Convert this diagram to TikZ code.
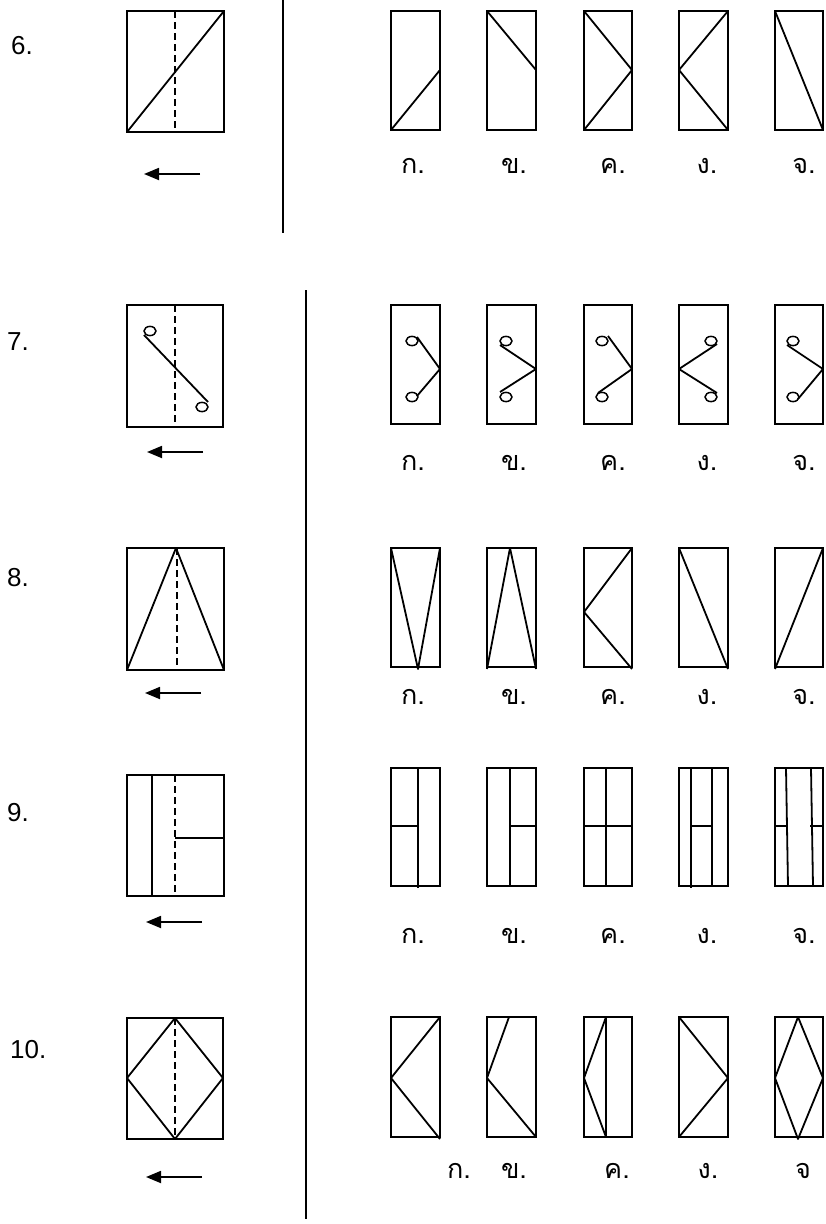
\documentclass[tikz,border=0pt]{standalone}
\usepackage{fontspec}
\setmainfont{Liberation Sans}
\newfontfamily\thaifont[Script=Thai]{Loma}
\usetikzlibrary{arrows.meta}
\tikzset{
  sheet/.style={draw=black, line width=1.9pt},
  crease/.style={draw=black, line width=1.7pt, dash pattern=on 7pt off 4pt},
  foldline/.style={line width=1.8pt, line join=round},
  hole/.style={line width=1.5pt},
  turn/.style={-{Triangle[length=15pt,width=12pt]}, line width=1.8pt},
  divider/.style={line width=1.8pt},
  qnum/.style={font=\fontsize{26}{26}\selectfont, anchor=west, inner sep=0pt},
  choice/.style={font=\thaifont\fontsize{27}{27}\selectfont, inner sep=0pt}
}

\begin{document}
\begin{tikzpicture}[x=1pt, y=-1pt]
  \useasboundingbox (0,0) rectangle (826,1224);

  % dividers
  \draw[divider] (283,0) -- (283,233);
  \draw[divider] (306,290) -- (306,1219);

  % ---- question 6
  \node[qnum] (q6) at (11,46) {6.};
  \draw[sheet] (127,11) rectangle (224,132);
  \draw[crease] (175,11) -- (175,132);
  \draw[foldline] (127,132) -- (224,11);
  \draw[turn] (200,174) -- (144,174);

  \draw[sheet] (391,11) rectangle (440,130);
  \draw[foldline] (391,130) -- (440,70);
  \draw[sheet] (487,11) rectangle (536,130);
  \draw[foldline] (487,11) -- (536,70);
  \draw[sheet] (584,11) rectangle (632,130);
  \draw[foldline] (584,11) -- (632,70) -- (584,130);
  \draw[sheet] (679,11) rectangle (728,130);
  \draw[foldline] (728,11) -- (679,70) -- (728,130);
  \draw[sheet] (775,11) rectangle (823,130);
  \draw[foldline] (775,11) -- (823,130);

  \node[choice] (c6a) at (413,166) {ก.};
  \node[choice] (c6b) at (514,166) {ข.};
  \node[choice] (c6c) at (613,166) {ค.};
  \node[choice] (c6d) at (707,166) {ง.};
  \node[choice] (c6e) at (804,166) {จ.};

  % ---- question 7
  \node[qnum] (q7) at (7,342) {7.};
  \draw[sheet] (127,305) rectangle (223,427);
  \draw[crease] (175,305) -- (175,427);
  \draw[hole] (150,331) ellipse [x radius=6, y radius=4.6];
  \draw[foldline] (144,335) -- (208,402);
  \draw[hole] (202,407) ellipse [x radius=6, y radius=4.6];
  \draw[turn] (203,452) -- (147,452);

  \draw[sheet] (391,305) rectangle (440,424);
  \draw[hole] (412,341) ellipse [x radius=6, y radius=4.6];
  \draw[hole] (412,397) ellipse [x radius=6, y radius=4.6];
  \draw[foldline] (417,337) -- (440,369) -- (417,396);
  \draw[sheet] (487,305) rectangle (536,424);
  \draw[hole] (506,341) ellipse [x radius=6, y radius=4.6];
  \draw[hole] (506,397) ellipse [x radius=6, y radius=4.6];
  \draw[foldline] (500,345) -- (536,369) -- (500,392);
  \draw[sheet] (584,305) rectangle (632,424);
  \draw[hole] (602,341) ellipse [x radius=6, y radius=4.6];
  \draw[hole] (602,397) ellipse [x radius=6, y radius=4.6];
  \draw[foldline] (608,336) -- (632,369) -- (598,393);
  \draw[sheet] (679,305) rectangle (728,424);
  \draw[hole] (711,341) ellipse [x radius=6, y radius=4.6];
  \draw[hole] (711,397) ellipse [x radius=6, y radius=4.6];
  \draw[foldline] (717,344) -- (679,369) -- (717,393);
  \draw[sheet] (775,305) rectangle (823,424);
  \draw[hole] (793,341) ellipse [x radius=6, y radius=4.6];
  \draw[hole] (793,397) ellipse [x radius=6, y radius=4.6];
  \draw[foldline] (787,345) -- (823,369) -- (798,399);

  \node[choice] (c7a) at (413,463) {ก.};
  \node[choice] (c7b) at (514,463) {ข.};
  \node[choice] (c7c) at (613,463) {ค.};
  \node[choice] (c7d) at (707,463) {ง.};
  \node[choice] (c7e) at (804,463) {จ.};

  % ---- question 8
  \node[qnum] (q8) at (7,578) {8.};
  \draw[sheet] (127,548) rectangle (224,670);
  \draw[crease] (177,548) -- (177,670);
  \draw[foldline] (127,670) -- (176,548) -- (224,670);
  \draw[turn] (201,693) -- (145,693);

  \draw[sheet] (391,548) rectangle (440,667);
  \draw[foldline] (391,548) -- (418,669) -- (440,548);
  \draw[sheet] (487,548) rectangle (536,667);
  \draw[foldline] (487,669) -- (510,548) -- (536,669);
  \draw[sheet] (584,548) rectangle (632,667);
  \draw[foldline] (632,548) -- (584,612) -- (632,669);
  \draw[sheet] (679,548) rectangle (728,667);
  \draw[foldline] (679,548) -- (728,669);
  \draw[sheet] (775,548) rectangle (823,667);
  \draw[foldline] (775,669) -- (823,548);

  \node[choice] (c8a) at (413,697) {ก.};
  \node[choice] (c8b) at (514,697) {ข.};
  \node[choice] (c8c) at (613,697) {ค.};
  \node[choice] (c8d) at (707,697) {ง.};
  \node[choice] (c8e) at (804,697) {จ.};

  % ---- question 9
  \node[qnum] (q9) at (7,813) {9.};
  \draw[sheet] (127,775) rectangle (224,896);
  \draw[foldline] (152,775) -- (152,896);
  \draw[crease] (175,775) -- (175,896);
  \draw[foldline] (175,838) -- (224,838);
  \draw[turn] (202,922) -- (146,922);

  \draw[sheet] (391,768) rectangle (440,886);
  \draw[foldline] (418,768) -- (418,888);
  \draw[foldline] (391,826) -- (418,826);
  \draw[sheet] (487,768) rectangle (536,886);
  \draw[foldline] (510,768) -- (510,886);
  \draw[foldline] (510,826) -- (536,826);
  \draw[sheet] (584,768) rectangle (632,886);
  \draw[foldline] (606,768) -- (606,886);
  \draw[foldline] (584,826) -- (632,826);
  \draw[sheet] (679,768) rectangle (728,886);
  \draw[foldline] (691,768) -- (691,888);
  \draw[foldline] (712,768) -- (712,886);
  \draw[foldline] (691,826) -- (712,826);
  \draw[sheet] (775,768) rectangle (823,886);
  \draw[foldline] (786,768) -- (788,886);
  \draw[foldline] (811,768) -- (813,886);
  \draw[foldline] (775,826) -- (788,826);
  \draw[foldline] (810,826) -- (823,826);

  \node[choice] (c9a) at (413,936) {ก.};
  \node[choice] (c9b) at (514,936) {ข.};
  \node[choice] (c9c) at (613,936) {ค.};
  \node[choice] (c9d) at (707,936) {ง.};
  \node[choice] (c9e) at (804,936) {จ.};

  % ---- question 10
  \node[qnum] (q10) at (10,1050) {10.};
  \draw[sheet] (127,1018) rectangle (223,1139);
  \draw[crease] (175,1018) -- (175,1139);
  \draw[foldline] (175,1018) -- (223,1078) -- (175,1139) -- (127,1078) -- cycle;
  \draw[turn] (202,1177) -- (146,1177);

  \draw[sheet] (391,1017) rectangle (440,1137);
  \draw[foldline] (440,1017) -- (391,1078) -- (440,1139);
  \draw[sheet] (487,1017) rectangle (536,1137);
  \draw[foldline] (509,1017) -- (487,1078) -- (536,1137);
  \draw[sheet] (584,1017) rectangle (632,1137);
  \draw[foldline] (606,1017) -- (606,1137);
  \draw[foldline] (606,1017) -- (584,1078) -- (606,1137);
  \draw[sheet] (679,1017) rectangle (728,1137);
  \draw[foldline] (679,1017) -- (728,1078) -- (679,1137);
  \draw[sheet] (775,1017) rectangle (823,1137);
  \draw[foldline] (798,1017) -- (823,1078) -- (798,1139) -- (775,1078) -- cycle;

  \node[choice] (c10a) at (459,1171) {ก.};
  \node[choice] (c10b) at (514,1171) {ข.};
  \node[choice] (c10c) at (617,1171) {ค.};
  \node[choice] (c10d) at (708,1171) {ง.};
  \node[choice] (c10e) at (803,1171) {จ};
\end{tikzpicture}
\end{document}
